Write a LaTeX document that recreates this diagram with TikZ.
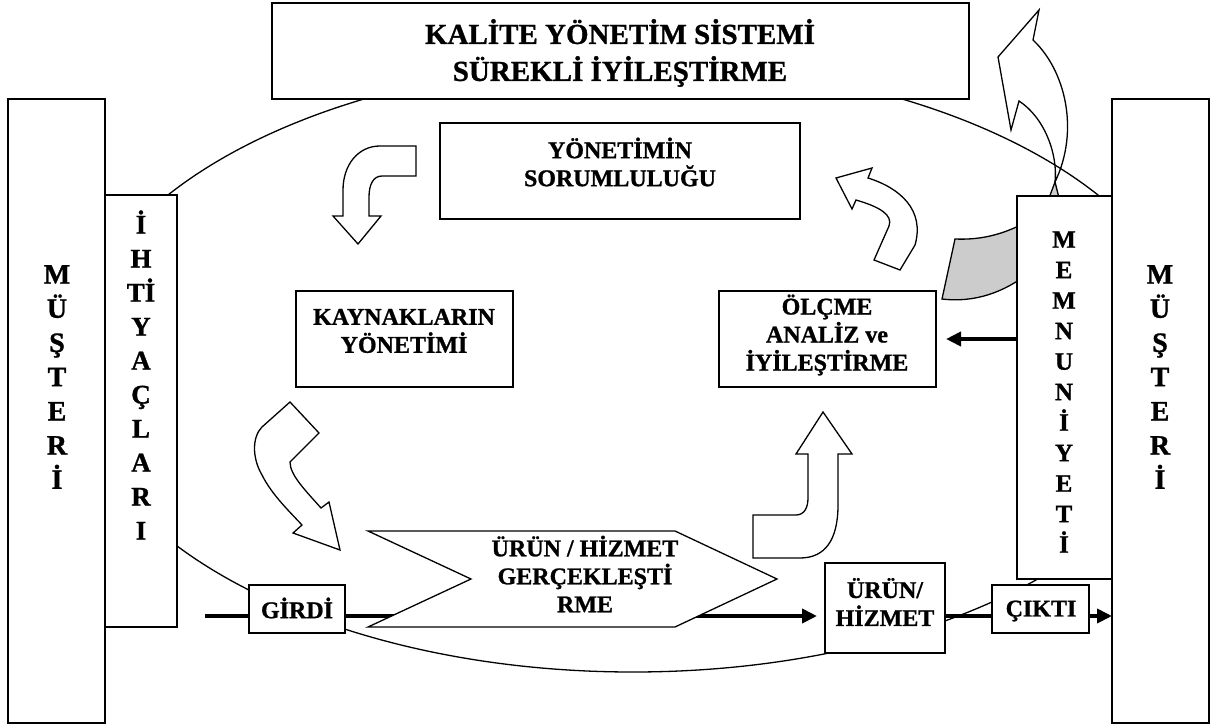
\documentclass[tikz,border=0pt]{standalone}
\usepackage{fontspec}
\setmainfont{Liberation Serif}[BoldFeatures={FakeBold=1}]
\usetikzlibrary{arrows.meta,fit}
\pgfdeclarelayer{bg}
\pgfdeclarelayer{mid}
\pgfsetlayers{bg,mid,main}
\begin{document}
\begin{tikzpicture}[x=0.5pt,y=-0.5pt,
  box/.style={draw, line width=0.85pt, fill=white, inner sep=0pt, outer sep=0pt},
  shp/.style={draw, line width=0.65pt, fill=white, line join=miter},
  greyshp/.style={draw, line width=0.65pt, fill=black!20},
  ell/.style={draw, line width=0.65pt},
  flow/.style={line width=2.4pt},
  arr/.style={-{Triangle[length=7.5pt,width=7pt]}},
  t12/.style={align=center, inner sep=0pt, font=\bfseries\fontsize{12pt}{14pt}\selectfont},
  t14/.style={align=center, inner sep=0pt, font=\bfseries\fontsize{14.5pt}{18.5pt}\selectfont},
  vmus/.style={align=center, inner sep=0pt, font=\bfseries\fontsize{14pt}{17.1pt}\selectfont},
  vihti/.style={align=center, inner sep=0pt, font=\bfseries\fontsize{13.5pt}{17pt}\selectfont},
  vmem/.style={align=center, inner sep=0pt, font=\bfseries\fontsize{12.5pt}{15.25pt}\selectfont}
]
\useasboundingbox (0,0) rectangle (1224,727);

% ---- boxes ----
\node[box, fit={(272,3) (969,99)}] (kys) {};
\node[t14] (kysT) at (620,53) {KALİTE YÖNETİM SİSTEMİ\\SÜREKLİ İYİLEŞTİRME};

\node[box, fit={(8,99) (105,723)}] (musL) {};
\node[vmus] (musLT) at (57,377) {M\\Ü\\Ş\\T\\E\\R\\İ};

\node[box, fit={(105,195) (177,627)}] (ihti) {};
\node[vihti] (ihtiT) at (141,375) {İ\\H\\Tİ\\Y\\A\\Ç\\L\\A\\R\\I};

\node[box, fit={(1112,99) (1209,723)}] (musR) {};
\node[vmus] (musRT) at (1160,377) {M\\Ü\\Ş\\T\\E\\R\\İ};

\node[box, fit={(1017,196) (1112,579)}] (memn) {};
\node[vmem] (memnT) at (1064,392) {M\\E\\M\\N\\U\\N\\İ\\Y\\E\\T\\İ};

\node[box, fit={(440,123) (800,219)}] (yon) {};
\node[t12] (yonT) at (620,162) {YÖNETİMİN\\SORUMLULUĞU};

\node[box, fit={(296,291) (513,387)}] (kay) {};
\node[t12] (kayT) at (404,331) {KAYNAKLARIN\\YÖNETİMİ};

\node[box, fit={(719,291) (936,387)}] (olc) {};
\node[t12] (olcT) at (827,335) {ÖLÇME\\ANALİZ ve\\İYİLEŞTİRME};

\node[box, fit={(249,585) (345,633)}] (girdi) {};
\node[t12] (girdiT) at (297,608) {GİRDİ};

\node[box, fit={(825,563) (945,653)}] (urun) {};
\node[t12] (urunT) at (885,602) {ÜRÜN/\\HİZMET};

\node[box, fit={(992,585) (1089,633)}] (cikti) {};
\node[t12] (ciktiT) at (1041,611) {ÇIKTI};

% ---- background arrows ----
\begin{pgfonlayer}{bg}
\fill[white] (0,0) rectangle (1224,727);
% grey back side of the curved arrow
\draw[greyshp] (955,239) .. controls (978,240) and (1002,236) .. (1030,220)
  -- (1030,272) .. controls (1005,292) and (975,303) .. (942,299) -- cycle;
% white curved arrow going up to the top right
\draw[shp] (1039,10) -- (1033,40) .. controls (1065,70) and (1080,130) .. (1055,182)
  .. controls (1058,155) and (1045,118) .. (1019,101) -- (1011,130) -- (998,57) -- cycle;
\draw[greyshp] (1055,182) -- (1049,198) -- (1059,198) -- cycle;
% arrow from YÖNETİMİN down to KAYNAKLARIN
\draw[shp] (416,146) -- (380,146) .. controls (358,146) and (343,165) .. (343,190)
  -- (343,216) -- (333,216) -- (358,244) -- (381,216) -- (369,216) -- (369,197)
  .. controls (369,185) and (373,176) .. (382,176) -- (416,176) -- cycle;
% S arrow from KAYNAKLARIN down to the process
\draw[shp] (290,402) -- (262,427) .. controls (252,437) and (252,458) .. (262,475)
  .. controls (272,495) and (290,512) .. (302,525) -- (293,533) -- (340,550)
  -- (329,502) -- (321,508) .. controls (305,490) and (290,475) .. (290,462)
  -- (319,433) -- cycle;
% up arrow to ÖLÇME
\draw[shp] (823,412) -- (852,454) -- (838,454) -- (838,505)
  .. controls (838,540) and (825,558) .. (800,558) -- (753,558) -- (753,515)
  -- (796,515) .. controls (804,515) and (808,508) .. (808,498) -- (808,454)
  -- (796,454) -- cycle;
% curved arrow from ÖLÇME up to YÖNETİMİN
\draw[shp] (836,178) -- (872,168) -- (868,178) .. controls (900,188) and (925,210) .. (915,245)
  -- (900,270) -- (874,260) -- (889,226) .. controls (893,215) and (880,207) .. (856,200)
  -- (852,209) -- cycle;
\end{pgfonlayer}

\begin{pgfonlayer}{mid}
\draw[ell] (633,367) ellipse [x radius=281.5pt, y radius=152.5pt];
\end{pgfonlayer}

% ---- flow lines ----
\coordinate (inL) at (205,616);
\draw[flow] (inL) -- (inL -| girdi.west);
\draw[flow, arr, shorten >=4pt] (girdi.east |- inL) -- (urun.west |- inL);
\draw[flow] (urun.east |- inL) -- (cikti.west |- inL);
\draw[flow, arr] (cikti.east |- inL) -- (musR.west |- inL);
\draw[flow, arr, shorten >=5pt] (olc.east -| memn.west) -- (olc.east);

% ---- process chevron ----
\draw[shp] (368,531) -- (675,531) -- (777,579) -- (675,627) -- (368,627) -- (471,579) -- cycle;
\node[t12] (gercT) at (585,574) {ÜRÜN / HİZMET\\GERÇEKLEŞTİ\\RME};

\end{tikzpicture}
\end{document}
